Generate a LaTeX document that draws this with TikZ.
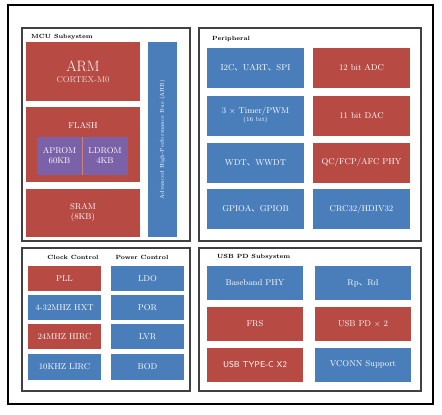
\documentclass[tikz,border=0pt]{standalone}
\usepackage{amsmath}
\usepackage{fontspec}
\usepackage{tikz}
\newfontfamily\cjk{Noto Sans CJK SC}
\definecolor{blkred}{HTML}{B84A44}
\definecolor{blkblue}{HTML}{4A7EBB}
\definecolor{blkpurple}{HTML}{7B62A8}
\newcommand{\dun}{{\cjk 、}}

\tikzset{
  blk/.style={rectangle,inner sep=1pt,text=white,align=center,
    font=\fontsize{8.5}{10}\selectfont},
  redblk/.style={blk,fill=blkred},
  blueblk/.style={blk,fill=blkblue},
  purpleblk/.style={blk,fill=blkpurple},
  group/.style={draw=black!75,line width=1.1pt},
  grouplabel/.style={font=\fontsize{6}{7}\selectfont\bfseries,inner sep=1pt}
}

\begin{document}
\begin{tikzpicture}[x=1pt,y=-1pt]
    \useasboundingbox (0,0) rectangle (442,415);

    % outer frame and the four groups
    \draw[line width=2pt] (8,5) rectangle (433,404);
    \draw[group] (22,28) rectangle (190,241);
    \draw[group] (199,28) rectangle (421,241);
    \draw[group] (22,248) rectangle (190,391);
    \draw[group] (199,248) rectangle (421,391);

    % MCU subsystem
    \node[grouplabel,anchor=west] (mculbl) at (30,37) {MCU Subsystem};
    \node[redblk,minimum width=114,minimum height=59] (arm) at (83,71.5)
        {{\fontsize{15}{17}\selectfont ARM}\\[1pt]{\color{white!80!blkred}CORTEX-M0}};
    \node[redblk,minimum width=114,minimum height=75] (flash) at (83,144.5) {};
    \node[blk] (flashlbl) at (83,126) {FLASH};
    \node[purpleblk,minimum width=45,minimum height=38] (aprom) at (59.5,156) {APROM\\60KB};
    \node[purpleblk,minimum width=46,minimum height=38] (ldrom) at (105,156) {LDROM\\4KB};
    \draw[blkred!70,thin] (aprom.north east) -- (aprom.south east);
    \node[redblk,minimum width=114,minimum height=48] (sram) at (83,213) {SRAM\\(8KB)};
    \node[blueblk,rotate=90,minimum width=195,minimum height=29,
        font=\fontsize{5.5}{6}\selectfont] (ahb) at (162.5,139.5)
        {Advanced High-Performance Bus (AHB)};

    % Peripheral
    \node[grouplabel,anchor=west] (perilbl) at (211,39) {Peripheral};
    \node[blueblk,minimum width=97,minimum height=40] (serial) at (255.5,68) {I2C\dun UART\dun SPI};
    \node[blueblk,minimum width=97,minimum height=40] (timer) at (255.5,115.5)
        {3 $\times$ Timer/PWM\\[-2pt]{\fontsize{6}{7}\selectfont (16 bit)}};
    \node[blueblk,minimum width=97,minimum height=40] (wdt) at (255.5,162.5) {WDT\dun WWDT};
    \node[blueblk,minimum width=97,minimum height=40] (gpio) at (255.5,209) {GPIOA\dun GPIOB};
    \node[redblk,minimum width=97,minimum height=40] (adc) at (361.5,68) {12 bit ADC};
    \node[redblk,minimum width=97,minimum height=40] (dac) at (361.5,115.5) {11 bit DAC};
    \node[redblk,minimum width=97,minimum height=40] (qc) at (361.5,162.5) {QC/FCP/AFC PHY};
    \node[blueblk,minimum width=97,minimum height=40] (crc) at (361.5,209) {CRC32/HDIV32};

    % Clock control / power control
    \node[grouplabel] (clklbl) at (73,257) {Clock Control};
    \node[grouplabel] (pwrlbl) at (142,257) {Power Control};
    \node[redblk,minimum width=73,minimum height=25.5] (pll) at (64.5,278.5) {PLL};
    \node[blueblk,minimum width=73,minimum height=25.5] (hxt) at (64.5,307.5) {4-32MHZ HXT};
    \node[redblk,minimum width=73,minimum height=25.5] (hirc) at (64.5,336.5) {24MHZ HIRC};
    \node[blueblk,minimum width=73,minimum height=25.5] (lirc) at (64.5,367) {10KHZ LIRC};
    \node[blueblk,minimum width=73,minimum height=25.5] (ldo) at (147.5,278.5) {LDO};
    \node[blueblk,minimum width=73,minimum height=25.5] (por) at (147.5,307.5) {POR};
    \node[blueblk,minimum width=73,minimum height=25.5] (lvr) at (147.5,336.5) {LVR};
    \node[blueblk,minimum width=73,minimum height=25.5] (bod) at (147.5,367) {BOD};

    % USB PD subsystem
    \node[grouplabel,anchor=west] (usblbl) at (216,257) {USB PD Subsystem};
    \node[blueblk,minimum width=96,minimum height=34] (bbphy) at (255,283) {Baseband PHY};
    \node[redblk,minimum width=96,minimum height=34] (frs) at (255,324) {FRS};
    \node[redblk,minimum width=96,minimum height=34] (typec) at (255,364.5) {\sffamily USB TYPE-C X2};
    \node[blueblk,minimum width=96,minimum height=34] (rprd) at (363,283) {Rp\dun Rd};
    \node[redblk,minimum width=96,minimum height=34] (usbpd) at (363,324) {USB PD $\times$ 2};
    \node[blueblk,minimum width=96,minimum height=34] (vconn) at (363,364.5) {VCONN Support};

\end{tikzpicture}
\end{document}
